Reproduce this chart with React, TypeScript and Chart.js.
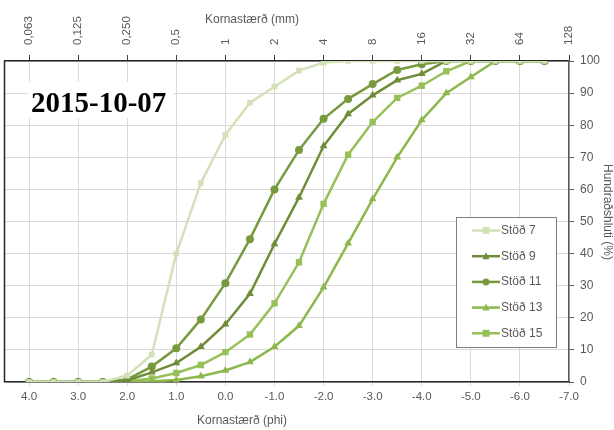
import React, { useEffect, useRef } from "react";
import { Chart, registerables } from "chart.js";

Chart.register(...registerables);

const PHI = [4.0, 3.5, 3.0, 2.5, 2.0, 1.5, 1.0, 0.5, 0.0, -0.5, -1.0, -1.5, -2.0, -2.5, -3.0, -3.5, -4.0, -4.5, -5.0, -5.5, -6.0, -6.5];
const STATION_NAMES = ["Stöð 7", "Stöð 9", "Stöð 11", "Stöð 13", "Stöð 15"];
const ST7 = [0, 0, 0, 0, 2, 8.5, 40, 62, 77, 87, 92, 97, 99.5, 100, 100, 100, 100, 100, 100, 100, 100, 100];
const ST9 = [0, 0, 0, 0, 0.5, 3, 5.9, 11, 18, 27.5, 43, 57.5, 73.5, 83.5, 89.3, 94, 96, 100, 100, 100, 100, 100];
const ST11 = [0, 0, 0, 0, 0.8, 4.8, 10.5, 19.5, 30.8, 44.5, 60, 72.3, 82, 88.2, 92.8, 97.2, 99, 100, 100, 100, 100, 100];
const ST13 = [0, 0, 0, 0, 0, 0.2, 0.6, 1.8, 3.6, 6.2, 11, 17.5, 29.5, 43.2, 57, 70, 81.6, 90, 95, 100, 100, 100];
const ST15 = [0, 0, 0, 0, 0.2, 1.1, 2.8, 5.3, 9.3, 14.8, 24.5, 37.3, 55.5, 70.8, 81, 88.5, 92.3, 96.8, 100, 100, 100, 100];
const PHI_TICKS = [4, 3, 2, 1, 0, -1, -2, -3, -4, -5, -6, -7];
const MM_TICKS = ["0,063", "0,125", "0,250", "0,5", "1", "2", "4", "8", "16", "32", "64", "128"];
const DATE_TITLE = "2015-10-07";
const X_TITLE = "Kornastærð (phi)";
const X2_TITLE = "Kornastærð (mm)";
const Y_TITLE = "Hundraðshluti (%)";

const SERIES = [ST7, ST9, ST11, ST13, ST15];
const COLORS = ["#d3e1b8", "#6f8c38", "#789a3e", "#8cb84e", "#97c05a"];
const STYLES = ["rect", "triangle", "circle", "triangle", "rect"];
const RADII = [4, 4.5, 4, 4.5, 4.5];

const FONT = "'Liberation Sans', Arial, sans-serif";
const TEXT = "#595959";

const overlay = {
  id: "overlay",
  afterDraw(chart: any) {
    const { ctx, chartArea } = chart;
    ctx.save();
    // left border
    ctx.strokeStyle = "#262626";
    ctx.lineWidth = 1.5;
    ctx.beginPath();
    ctx.moveTo(chartArea.left, chartArea.top);
    ctx.lineTo(chartArea.left, chartArea.bottom);
    ctx.stroke();

    // top axis labels (mm), rotated, reading bottom-to-top
    const x2 = chart.scales.x2;
    ctx.fillStyle = TEXT;
    ctx.font = "11.5px " + FONT;
    ctx.textAlign = "left";
    ctx.textBaseline = "middle";
    x2.ticks.forEach((t: any, i: number) => {
      const px = x2.getPixelForValue(t.value);
      ctx.save();
      ctx.translate(px, 45);
      ctx.rotate(-Math.PI / 2);
      ctx.fillText(MM_TICKS[i], 0, 0);
      ctx.restore();
    });

    // date title with white backing
    ctx.fillStyle = "#ffffff";
    ctx.fillRect(28, 82, 146, 36);
    ctx.fillStyle = "#000000";
    ctx.font = "bold 29px 'Liberation Serif', 'Times New Roman', serif";
    ctx.textAlign = "left";
    ctx.textBaseline = "alphabetic";
    ctx.fillText(DATE_TITLE, 31, 112);

    // axis titles
    ctx.fillStyle = TEXT;
    ctx.font = "12px " + FONT;
    ctx.textAlign = "center";
    ctx.textBaseline = "middle";
    ctx.fillText(X_TITLE, 242, 421);
    ctx.fillText(X2_TITLE, 252, 20);
    ctx.save();
    ctx.translate(607, 212);
    ctx.rotate(Math.PI / 2);
    ctx.fillText(Y_TITLE, 0, 0);
    ctx.restore();

    // legend
    const lx = 456, ly = 217, lw = 100, lh = 130;
    ctx.fillStyle = "#ffffff";
    ctx.fillRect(lx, ly, lw, lh);
    ctx.strokeStyle = "#7f7f7f";
    ctx.lineWidth = 1;
    ctx.strokeRect(lx + 0.5, ly + 0.5, lw, lh);
    chart.data.datasets.forEach((ds: any, i: number) => {
      const y = 230.5 + i * 25.7;
      ctx.strokeStyle = ds.borderColor;
      ctx.lineWidth = 2.5;
      ctx.beginPath();
      ctx.moveTo(472, y);
      ctx.lineTo(500, y);
      ctx.stroke();
      ctx.fillStyle = ds.backgroundColor;
      const r = 3.5;
      const cx = 486;
      ctx.beginPath();
      if (ds.pointStyle === "rect") {
        ctx.rect(cx - r, y - r, 2 * r, 2 * r);
      } else if (ds.pointStyle === "circle") {
        ctx.arc(cx, y, r, 0, Math.PI * 2);
      } else {
        ctx.moveTo(cx, y - r - 0.5);
        ctx.lineTo(cx + r, y + r - 0.5);
        ctx.lineTo(cx - r, y + r - 0.5);
        ctx.closePath();
      }
      ctx.fill();
      ctx.fillStyle = TEXT;
      ctx.font = "12px " + FONT;
      ctx.textAlign = "left";
      ctx.textBaseline = "middle";
      ctx.fillText(ds.label, 501, y);
    });
    ctx.restore();
  },
};

export default function App() {
  const ref = useRef<HTMLCanvasElement | null>(null);
  useEffect(() => {
    if (!ref.current) return;
    const setTicks = (s: any) => {
      s.ticks = PHI_TICKS.map((v) => ({ value: v }));
    };
    const chart = new Chart(ref.current, {
      type: "line",
      data: {
        datasets: SERIES.map((vals, i) => ({
          label: STATION_NAMES[i],
          data: PHI.map((p, j) => ({ x: p, y: vals[j] })),
          borderColor: COLORS[i],
          backgroundColor: COLORS[i],
          pointStyle: STYLES[i] as any,
          pointRadius: RADII[i],
          pointBorderWidth: 0,
          pointHoverRadius: RADII[i],
          borderWidth: 2.5,
          tension: 0,
          fill: false,
        })),
      },
      options: {
        animation: false,
        responsive: false,
        events: [],
        layout: { padding: { left: 4, top: 0, right: 0, bottom: 0 } },
        plugins: { legend: { display: false }, tooltip: { enabled: false }, title: { display: false } },
        scales: {
          x: {
            type: "linear",
            position: "bottom",
            min: -7,
            max: 4.5,
            reverse: true,
            afterBuildTicks: setTicks,
            afterFit: (s: any) => { s.height = 48; },
            ticks: {
              autoSkip: false,
              maxRotation: 0,
              minRotation: 0,
              padding: 4,
              color: TEXT,
              font: { family: FONT, size: 11.5 },
              callback: (v: any) => Number(v).toFixed(1),
            },
            grid: { color: "#d9d9d9", lineWidth: 1, tickLength: 4 },
            border: { display: true, color: "#262626", width: 1.5 },
          },
          x2: {
            type: "linear",
            position: "top",
            min: -7,
            max: 4.5,
            reverse: true,
            afterBuildTicks: setTicks,
            afterFit: (s: any) => { s.height = 61; },
            ticks: {
              display: false,
              autoSkip: false,
              maxRotation: 0,
              minRotation: 0,
            },
            grid: { drawOnChartArea: false, color: "#404040", tickLength: 6, lineWidth: 1 },
            border: { display: true, color: "#262626", width: 1.5 },
          },
          y: {
            type: "linear",
            position: "right",
            min: 0,
            max: 100,
            afterFit: (s: any) => { s.width = 45; },
            ticks: {
              stepSize: 10,
              padding: 6,
              color: TEXT,
              font: { family: FONT, size: 12 },
            },
            grid: { color: "#d9d9d9", tickColor: "#595959", tickLength: 5, lineWidth: 1 },
            border: { display: true, color: "#595959", width: 1.5 },
          },
        },
      },
      plugins: [overlay],
    });
    return () => chart.destroy();
  }, []);
  return (
    <div style={{ position: "absolute", left: 0, top: 0, width: 614, height: 430, background: "#fff" }}>
      <canvas ref={ref} width={614} height={430} />
    </div>
  );
}
